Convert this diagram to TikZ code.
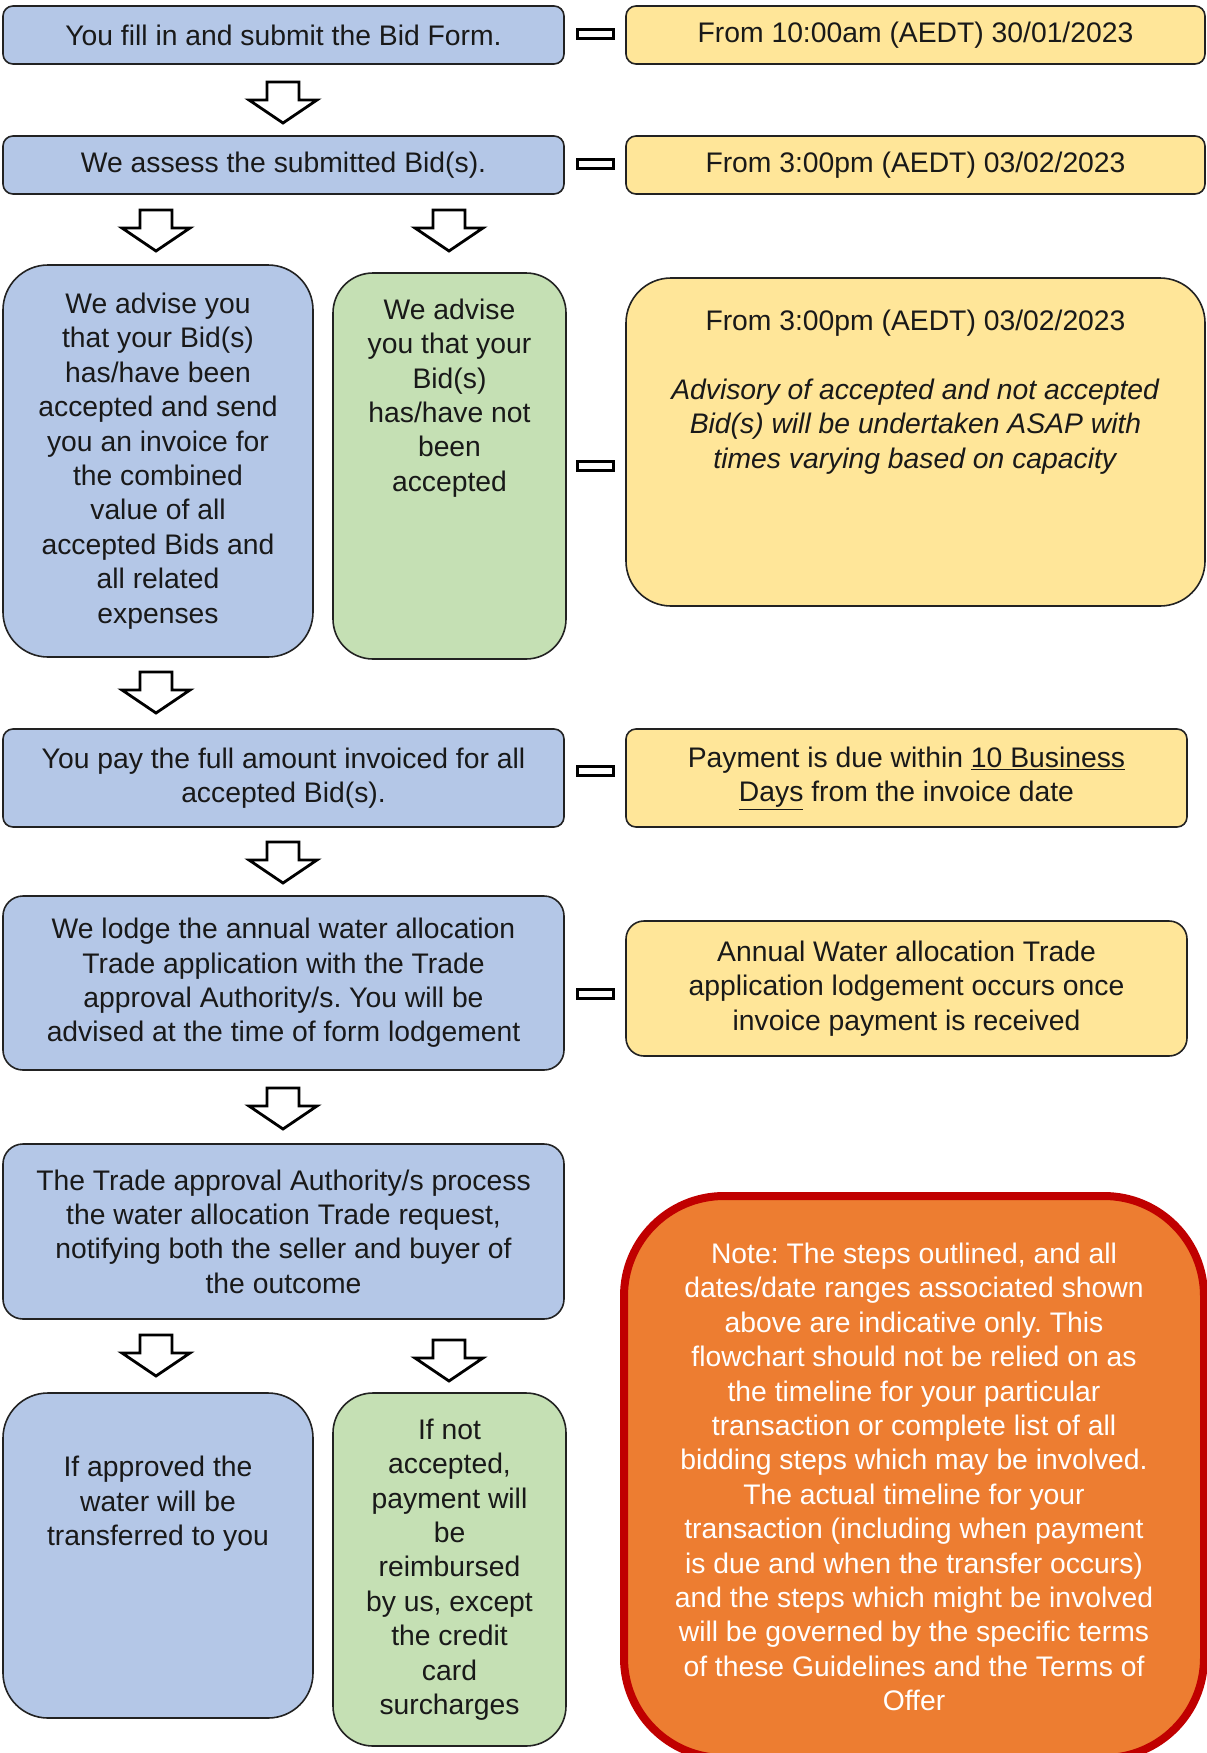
\documentclass[tikz,border=0pt]{standalone}
\usepackage{fontspec}
\setmainfont{Liberation Sans}
\frenchspacing
\definecolor{cblue}{HTML}{B4C7E7}
\definecolor{cgreen}{HTML}{C5E0B4}
\definecolor{cyellow}{HTML}{FFE699}
\definecolor{corange}{HTML}{ED7D31}
\definecolor{cred}{HTML}{C00000}
\definecolor{cline}{HTML}{222222}
\newcommand\flowarrow[2]{%
  \draw[barrow] (#1-16,#2-41) -- (#1+16,#2-41) -- (#1+16,#2-23) -- (#1+34,#2-23)
    -- (#1,#2) -- (#1-34,#2-23) -- (#1-16,#2-23) -- cycle;}
\begin{document}
\begin{tikzpicture}[x=1pt,y=-1pt,
  every node/.style={font=\fontsize{28.3}{34.4}\selectfont\frenchspacing, align=center, inner sep=0pt, text=black!90},
  box/.style={draw=cline, line width=1.6pt, rounded corners=10pt},
  bluebox/.style={box, fill=cblue},
  greenbox/.style={box, fill=cgreen},
  yellowbox/.style={box, fill=cyellow},
  linkrect/.style={draw=black, line width=2.8pt, fill=white, minimum width=36, minimum height=9},
  barrow/.style={draw=black, line width=2.8pt, fill=white, line join=miter},
  notebox/.style={draw=cred, line width=8pt, fill=corange, rounded corners=100pt}]
\useasboundingbox (0,0) rectangle (1207,1753);
\clip (0,0) rectangle (1207,1753);
\fill[white] (0,0) rectangle (1207,1753);

% row 1
\node[bluebox, minimum width=561, minimum height=58] (b1) at (283.5,35) {You fill in and submit the Bid Form.};
\node[yellowbox, minimum width=579, minimum height=58] (y1) at (915.5,35) {From 10:00am (AEDT) 30/01/2023};
\node[linkrect] (r1) at (595.5,34) {};
\flowarrow{283}{123}

% row 2
\node[bluebox, minimum width=561, minimum height=58] (b2) at (283.5,165) {We assess the submitted Bid(s).};
\node[yellowbox, minimum width=579, minimum height=58] (y2) at (915.5,165) {From 3:00pm (AEDT) 03/02/2023};
\node[linkrect] (r2) at (595.5,164) {};
\flowarrow{156}{251}
\flowarrow{449}{251}

% row 3
\node[bluebox, rounded corners=45pt, minimum width=310, minimum height=392] (b3) at (158,461) {We advise you\\that your Bid(s)\\has/have been\\accepted and send\\you an invoice for\\the combined\\value of all\\accepted Bids and\\all related\\expenses};
\node[greenbox, rounded corners=40pt, minimum width=233, minimum height=386] (g1) at (449.5,466) {};
\node (g1t) at (449.5,398) {We advise\\you that your\\Bid(s)\\has/have not\\been\\accepted};
\node[yellowbox, rounded corners=45pt, minimum width=579, minimum height=328] (y3) at (915.5,442) {};
\node (y3t) at (915.5,392) {From 3:00pm (AEDT) 03/02/2023\\[34.4pt]\textit{Advisory of accepted and not accepted}\\\textit{Bid(s) will be undertaken ASAP with}\\\textit{times varying based on capacity}};
\node[linkrect] (r3) at (595.5,466) {};
\flowarrow{156}{713}

% row 4
\node[bluebox, minimum width=561, minimum height=98] (b4) at (283.5,778) {You pay the full amount invoiced for all\\accepted Bid(s).};
\node[yellowbox, minimum width=561, minimum height=98] (y4) at (906.5,778) {Payment is due within \underline{10 Business}\\\underline{Days} from the invoice date};
\node[linkrect] (r4) at (595.5,771) {};
\flowarrow{283}{883}

% row 5
\node[bluebox, rounded corners=20pt, minimum width=561, minimum height=174] (b5) at (283.5,983) {We lodge the annual water allocation\\Trade application with the Trade\\approval Authority/s. You will be\\advised at the time of form lodgement};
\node[yellowbox, rounded corners=18pt, minimum width=561, minimum height=135] (y5) at (906.5,988.5) {Annual Water allocation Trade\\application lodgement occurs once\\invoice payment is received};
\node[linkrect] (r5) at (595.5,994) {};
\flowarrow{283}{1129}

% row 6
\node[bluebox, rounded corners=20pt, minimum width=561, minimum height=175] (b6) at (283.5,1231.5) {The Trade approval Authority/s process\\the water allocation Trade request,\\notifying both the seller and buyer of\\the outcome};
\flowarrow{156}{1376}
\flowarrow{449}{1381}

% row 7
\node[bluebox, rounded corners=45pt, minimum width=310, minimum height=325] (b7) at (158,1555.5) {};
\node (b7t) at (158,1504) {If approved the\\water will be\\transferred to you};
\node[greenbox, rounded corners=40pt, minimum width=233, minimum height=353] (g2) at (449.5,1569.5) {If not\\accepted,\\payment will\\be\\reimbursed\\by us, except\\the credit\\card\\surcharges};

% note
\node[notebox, minimum width=580, minimum height=562, text=white] (note) at (914,1477) {Note: The steps outlined, and all\\dates/date ranges associated shown\\above are indicative only. This\\flowchart should not be relied on as\\the timeline for your particular\\transaction or complete list of all\\bidding steps which may be involved.\\The actual timeline for your\\transaction (including when payment\\is due and when the transfer occurs)\\and the steps which might be involved\\will be governed by the specific terms\\of these Guidelines and the Terms of\\Offer};
\end{tikzpicture}
\end{document}
